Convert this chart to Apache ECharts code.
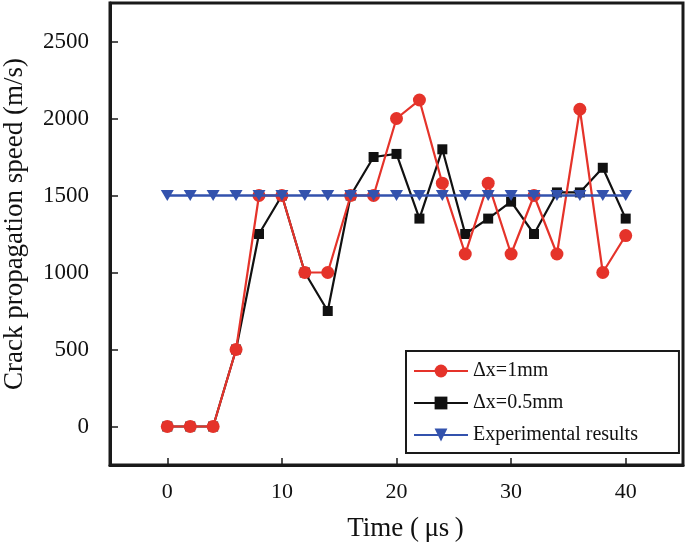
<!DOCTYPE html>
<html>
<head>
<meta charset="utf-8">
<script src="https://cdn.jsdelivr.net/npm/echarts@6/dist/echarts.min.js"></script>
<style>html,body{margin:0;padding:0;background:#fff;}#c{width:685px;height:546px;}</style>
</head>
<body>
<div id="c"></div>
<script>
var times = [0,2,4,6,8,10,12,14,16,18,20,22,24,26,28,30,32,34,36,38,40];
var red1mm = [0,0,0,500,1500,1500,1000,1000,1500,1500,2000,2120,1580,1120,1580,1120,1500,1120,2060,1000,1240];
var black05mm = [0,0,0,500,1250,1500,1000,750,1500,1750,1770,1350,1800,1250,1350,1460,1250,1520,1520,1680,1350];
var experimental = [1500,1500,1500,1500,1500,1500,1500,1500,1500,1500,1500,1500,1500,1500,1500,1500,1500,1500,1500,1500,1500];
var xTicks = [0,10,20,30,40];
var yTicks = [0,500,1000,1500,2000,2500];
var names = ['\u0394x=1mm','\u0394x=0.5mm','Experimental results'];

function pairs(ys){ return times.map(function(t,i){ return [t, ys[i]]; }); }
function plain(v){ return String(v); }
var serif = "'Liberation Serif','Times New Roman',serif";
var chart = echarts.init(document.getElementById('c'));
chart.setOption({
  animation: false,
  textStyle: {fontFamily: serif},
  grid: {left: 110, right: 2, top: 3, bottom: 81, show: true, borderColor: '#1a1a1a', borderWidth: 3, containLabel: false, outerBoundsMode: 'none'},
  xAxis: {
    type: 'value', min: -5, max: 45,
    name: 'Time (\u2009\u03bcs\u2009)', nameLocation: 'middle', nameGap: 50,
    nameTextStyle: {fontSize: 27, color: '#111', fontFamily: serif, padding: [0,0,0,18]},
    axisLine: {show: true, onZero: false, lineStyle: {color: '#1a1a1a', width: 3}},
    axisTick: {show: true, inside: true, length: 7, lineStyle: {color: '#1a1a1a', width: 1.5}, customValues: xTicks},
    axisLabel: {fontSize: 22, color: '#111', margin: 16, fontFamily: serif, customValues: xTicks, formatter: plain},
    splitLine: {show: false}
  },
  yAxis: {
    type: 'value', min: -250, max: 2750,
    name: 'Crack propagation speed (m/s)', nameLocation: 'middle', nameGap: 82,
    nameTextStyle: {fontSize: 27, color: '#111', fontFamily: serif, padding: [0,0,0,20]},
    axisLine: {show: true, onZero: false, lineStyle: {color: '#1a1a1a', width: 3}},
    axisTick: {show: true, inside: true, length: 8, lineStyle: {color: '#1a1a1a', width: 1.5}, customValues: yTicks},
    axisLabel: {fontSize: 23, color: '#111', margin: 21, fontFamily: serif, customValues: yTicks, formatter: plain},
    splitLine: {show: false}
  },
  legend: {
    data: names, orient: 'vertical', left: 406, top: 351,
    backgroundColor: '#fff', borderColor: '#1a1a1a', borderWidth: 2,
    padding: [10, 41, 8, 7], itemGap: 12, itemWidth: 54, itemHeight: 16,
    textStyle: {fontSize: 20, color: '#111', fontFamily: serif}
  },
  series: [
    {name: names[1], type: 'line', data: pairs(black05mm), symbol: 'rect', symbolSize: 10,
     itemStyle: {color: '#111'}, lineStyle: {color: '#111', width: 2.2}, z: 2},
    {name: names[0], type: 'line', data: pairs(red1mm), symbol: 'circle', symbolSize: 13,
     itemStyle: {color: '#e5332a'}, lineStyle: {color: '#e5332a', width: 2.2}, z: 3},
    {name: names[2], type: 'line', data: pairs(experimental), symbol: 'triangle', symbolRotate: 180, symbolSize: [13, 11],
     itemStyle: {color: '#3352ad'}, lineStyle: {color: '#3352ad', width: 2.5}, z: 4}
  ]
});
</script>
</body>
</html>
